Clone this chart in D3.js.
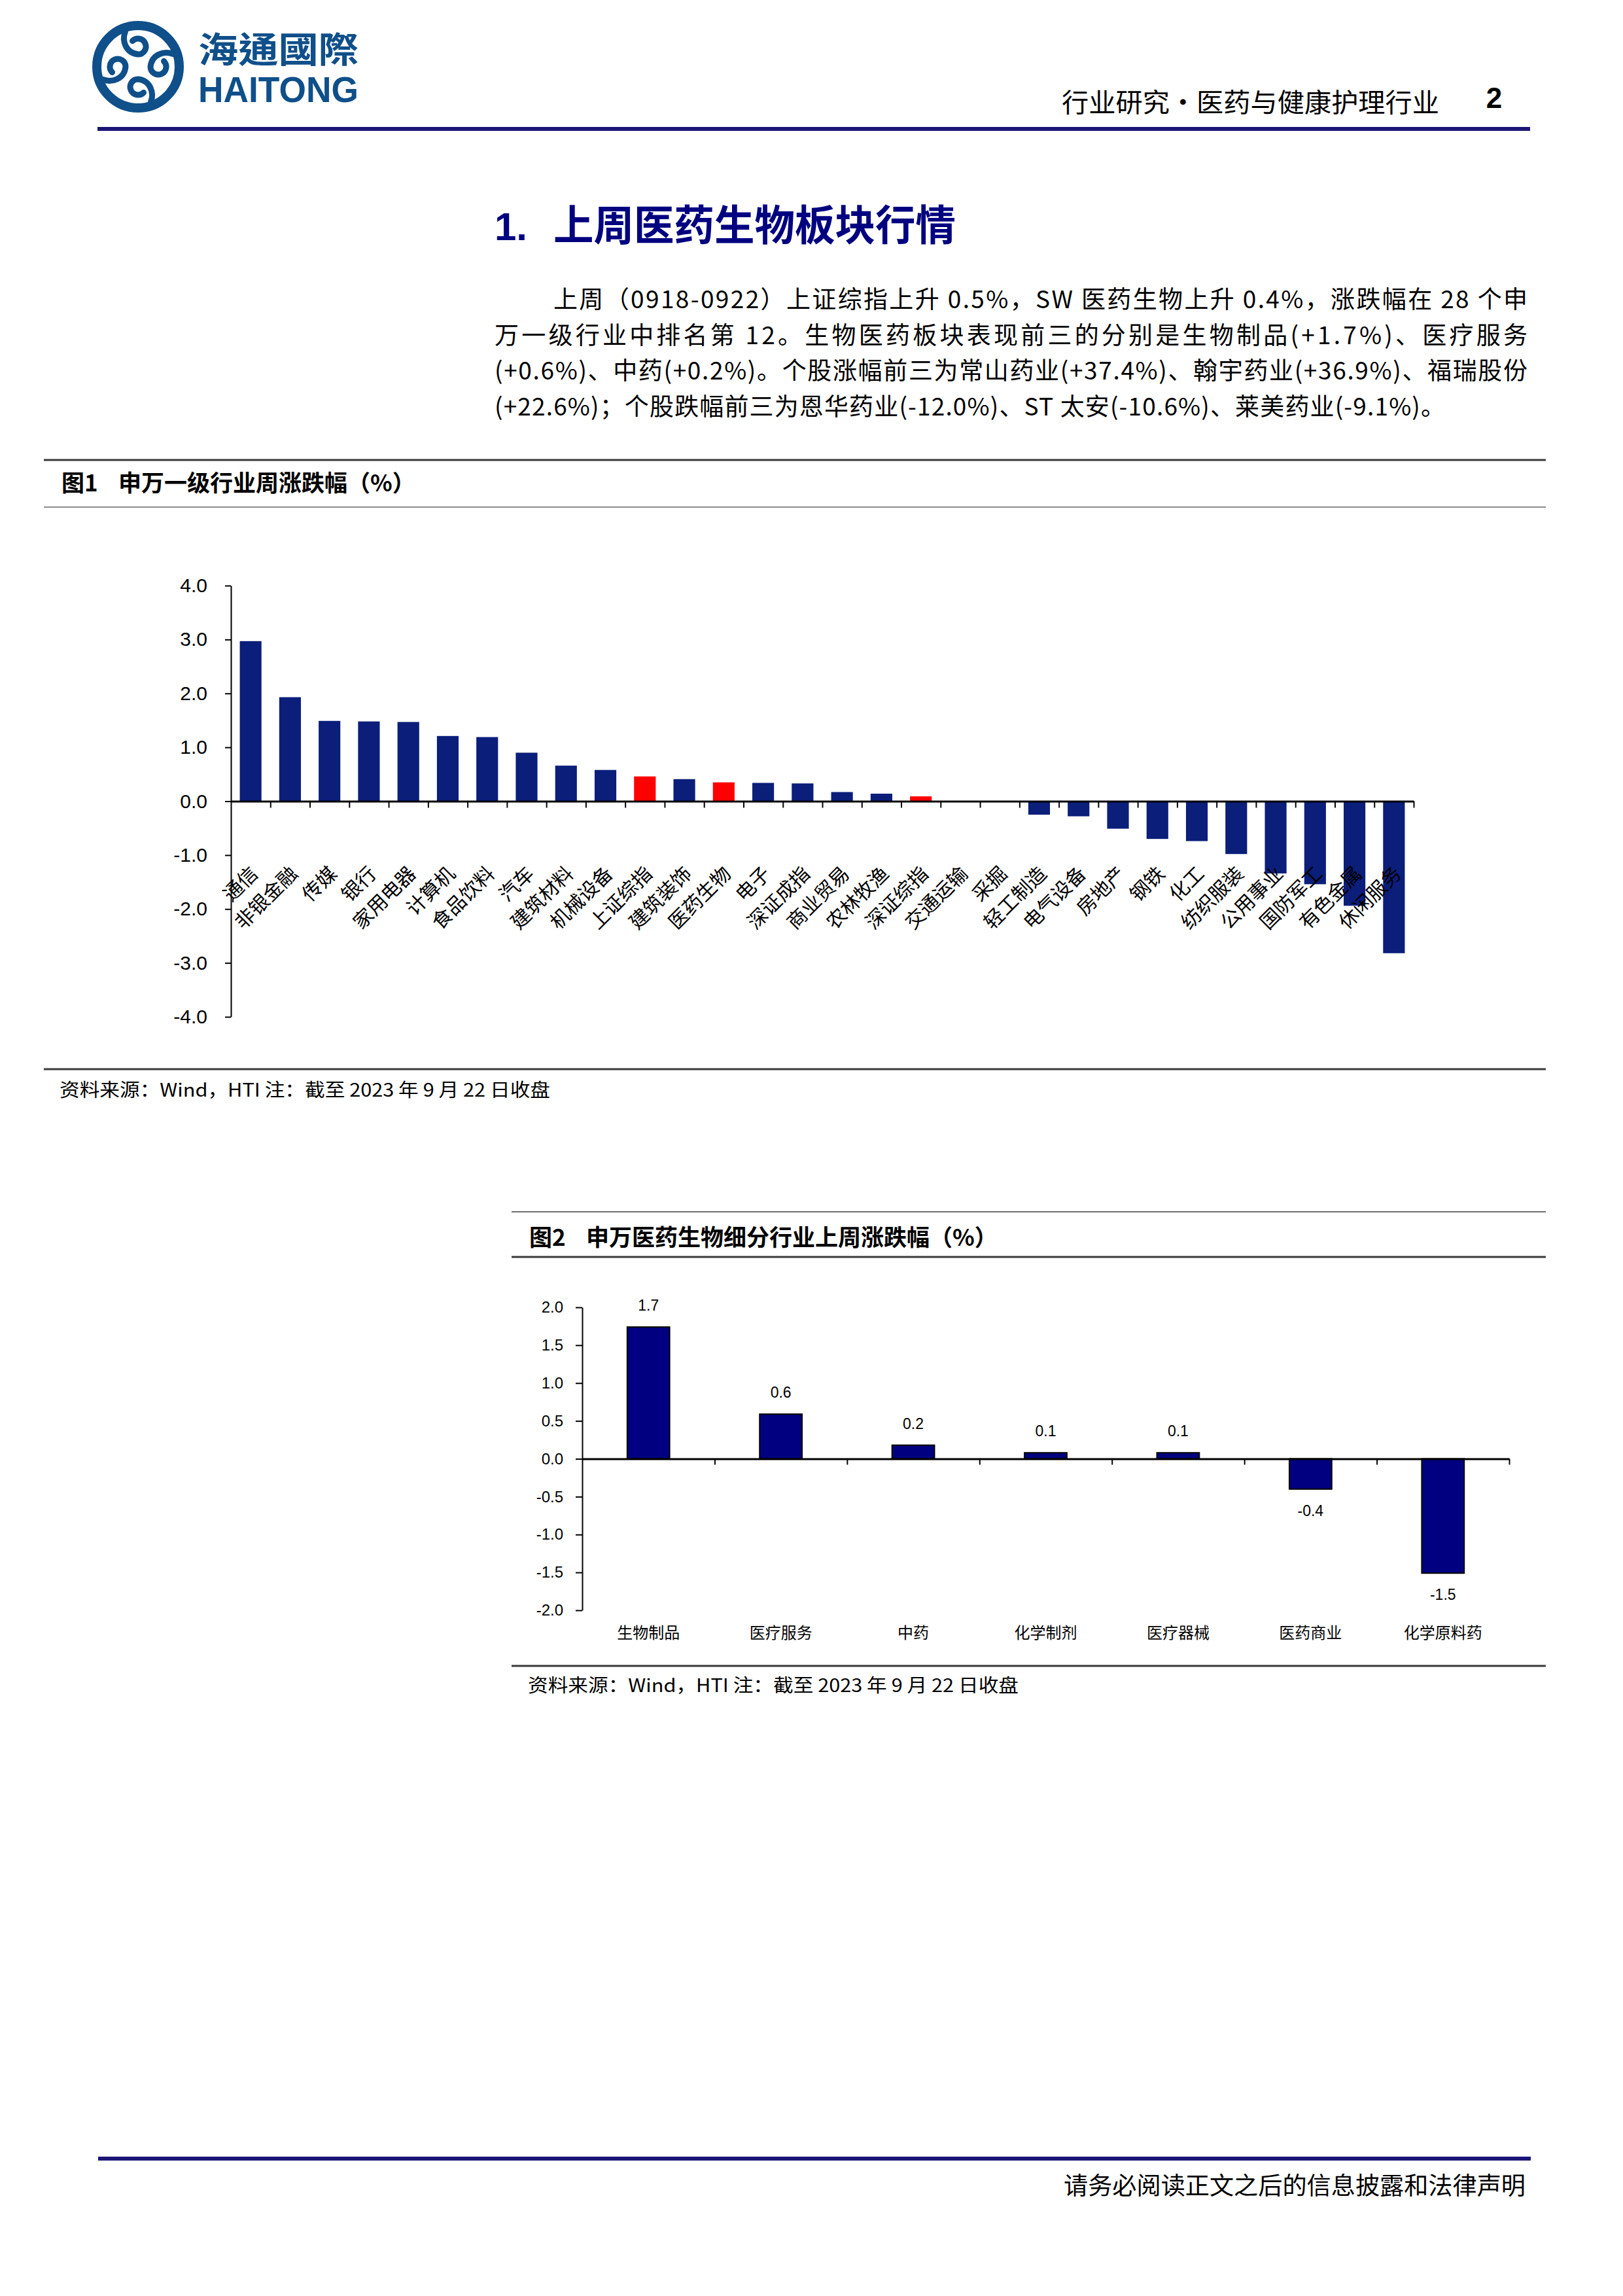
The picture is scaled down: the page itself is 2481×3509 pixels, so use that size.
<!DOCTYPE html>
<html>
<head>
<meta charset="utf-8">
<script src="https://cdn.jsdelivr.net/npm/d3@7"></script>
<style>
  body { margin: 0; background: #fff; }
  svg { display: block; }
</style>
</head>
<body>
<script>
// ---- data ----
const industries = ['通信', '非银金融', '传媒', '银行', '家用电器', '计算机', '食品饮料', '汽车',
    '建筑材料', '机械设备', '上证综指', '建筑装饰', '医药生物', '电子', '深证成指', '商业贸易',
    '农林牧渔', '深证综指', '交通运输', '采掘', '轻工制造', '电气设备', '房地产', '钢铁', '化工',
    '纺织服装', '公用事业', '国防军工', '有色金属', '休闲服务'];
const weeklyChange = [2.97, 1.93, 1.49, 1.48, 1.47, 1.21, 1.19, 0.90, 0.66, 0.58, 0.46, 0.41,
    0.35, 0.34, 0.33, 0.17, 0.14, 0.09, 0.0, 0.0, -0.25, -0.28, -0.51, -0.70, -0.74, -0.98,
    -1.34, -1.54, -1.94, -2.82];
const highlighted = ['上证综指', '医药生物', '深证综指'];
const fig1Ticks = [4, 3, 2, 1, 0, -1, -2, -3, -4];

const subIndustries = ['生物制品', '医疗服务', '中药', '化学制剂', '医疗器械', '医药商业', '化学原料药'];
const subChange = [1.74, 0.59, 0.18, 0.08, 0.08, -0.40, -1.51];
const fig2Ticks = [2, 1.5, 1, 0.5, 0, -0.5, -1, -1.5, -2];

const paragraphLines = [
    '上周（0918-0922）上证综指上升 0.5%，SW 医药生物上升 0.4%，涨跌幅在 28 个申',
    '万一级行业中排名第 12。生物医药板块表现前三的分别是生物制品(+1.7%)、医疗服务',
    '(+0.6%)、中药(+0.2%)。个股涨幅前三为常山药业(+37.4%)、翰宇药业(+36.9%)、福瑞股份',
    '(+22.6%)；个股跌幅前三为恩华药业(-12.0%)、ST 太安(-10.6%)、莱美药业(-9.1%)。'
];
const sourceNote = '资料来源：Wind，HTI 注：截至 2023 年 9 月 22 日收盘';

// ---- page ----
const W = 2481, H = 3509;
const CJK = '"Noto Sans CJK SC", "Noto Sans CJK TC", sans-serif';
const LATIN = '"Liberation Sans", Arial, sans-serif';
const logoBlue = '#0f4f8a';
const ruleBlue = '#1b1577';

const svg = d3.select('body').append('svg')
    .attr('width', W).attr('height', H)
    .attr('viewBox', `0 0 ${W} ${H}`);
svg.append('rect').attr('width', W).attr('height', H).attr('fill', '#fff');

// logo
const logo = svg.append('g').attr('transform', 'translate(211,102)');
logo.append('circle').attr('r', 63).attr('fill', 'none')
    .attr('stroke', logoBlue).attr('stroke-width', 14);
[0, 90, 180, 270].forEach(function(a) {
    logo.append('path')
        .attr('transform', `rotate(${a})`)
        .attr('d', 'M-19.5,-53.6 C-25,-40 -19,-21 0,-19 A12,12 0 1 0 -8.5,-39.5')
        .attr('fill', 'none')
        .attr('stroke', logoBlue)
        .attr('stroke-width', 9)
        .attr('stroke-linecap', 'round');
});
svg.append('text').attr('x', 303).attr('y', 96)
    .attr('font-family', '"Noto Sans CJK TC", sans-serif').attr('font-weight', 700)
    .attr('font-size', 54).attr('fill', logoBlue)
    .attr('textLength', 245).attr('lengthAdjust', 'spacingAndGlyphs')
    .text('海通國際');
svg.append('text').attr('x', 303).attr('y', 156)
    .attr('font-family', LATIN).attr('font-weight', 700)
    .attr('font-size', 56).attr('fill', logoBlue)
    .attr('textLength', 245).attr('lengthAdjust', 'spacingAndGlyphs')
    .text('HAITONG');

// running header
svg.append('text').attr('x', 1623).attr('y', 171)
    .attr('font-family', CJK).attr('font-size', 40).attr('fill', '#000')
    .attr('textLength', 577).attr('lengthAdjust', 'spacingAndGlyphs')
    .text('行业研究•医药与健康护理行业');
svg.append('text').attr('x', 2284).attr('y', 165).attr('text-anchor', 'middle')
    .attr('font-family', LATIN).attr('font-weight', 700).attr('font-size', 44)
    .text('2');
svg.append('rect').attr('x', 149).attr('y', 194).attr('width', 2190).attr('height', 6)
    .attr('fill', ruleBlue);

// section heading
svg.append('text').attr('x', 756).attr('y', 367)
    .attr('font-family', LATIN).attr('font-weight', 700).attr('font-size', 60)
    .attr('fill', '#000080').text('1.');
svg.append('text').attr('x', 846).attr('y', 367)
    .attr('font-family', CJK).attr('font-weight', 700).attr('font-size', 64)
    .attr('fill', '#000080')
    .attr('textLength', 615).attr('lengthAdjust', 'spacingAndGlyphs')
    .text('上周医药生物板块行情');

// paragraph
const lineStart = [846, 756, 756, 756];
const lineEnd = [2335, 2335, 2335, 2209];
svg.append('g').selectAll('text').data(paragraphLines).join('text')
    .attr('x', (d, i) => lineStart[i])
    .attr('y', (d, i) => 471 + i * 54.5)
    .attr('font-family', CJK).attr('font-size', 37).attr('fill', '#000')
    .attr('textLength', (d, i) => lineEnd[i] - lineStart[i])
    .attr('lengthAdjust', 'spacing')
    .text(d => d);

function rule(y, x0, x1, w, color) {
    svg.append('line').attr('x1', x0).attr('x2', x1).attr('y1', y).attr('y2', y)
        .attr('stroke', color).attr('stroke-width', w);
}

function figTitle(x, xRest, y, num, rest) {
    svg.append('text').attr('x', x).attr('y', y)
        .attr('font-family', CJK).attr('font-weight', 700).attr('font-size', 35)
        .text(num);
    svg.append('text').attr('x', xRest).attr('y', y)
        .attr('font-family', CJK).attr('font-weight', 700).attr('font-size', 35)
        .text(rest);
}

// ---- figure 1 ----
rule(703, 67, 2363, 3, '#3a3a3a');
figTitle(94, 181, 751, '图1', '申万一级行业周涨跌幅（%）');
rule(775, 67, 2363, 2, '#8c8c8c');

const fig1Data = industries.map((name, i) => ({name: name, value: weeklyChange[i]}));
const x1 = d3.scaleBand().domain(industries).range([353, 2161])
    .paddingInner(0.45).paddingOuter(0.225);
const y1 = d3.scaleLinear().domain([-4, 4]).range([1554, 895]);
const slot1 = d3.scaleLinear().domain([0, industries.length]).range([353, 2161]);

const fig1 = svg.append('g');
fig1.selectAll('rect').data(fig1Data).join('rect')
    .attr('x', d => x1(d.name))
    .attr('width', x1.bandwidth())
    .attr('y', d => y1(Math.max(0, d.value)))
    .attr('height', d => Math.abs(y1(d.value) - y1(0)))
    .attr('fill', d => highlighted.includes(d.name) ? '#ff0000' : '#0a1e7a');

fig1.append('g').attr('transform', 'translate(353,0)')
    .call(d3.axisLeft(y1).tickValues(fig1Ticks).tickFormat(d => d.toFixed(1))
        .tickSize(9).tickSizeOuter(0).tickPadding(27))
    .call(g => g.select('.domain').attr('stroke', '#000').attr('stroke-width', 2))
    .call(g => g.selectAll('.tick line').attr('stroke', '#000').attr('stroke-width', 2))
    .call(g => g.selectAll('text').attr('font-family', LATIN).attr('font-size', 30).attr('fill', '#000'));

fig1.append('g').attr('transform', `translate(0,${y1(0)})`)
    .call(d3.axisBottom(slot1).tickValues(d3.range(1, industries.length + 1))
        .tickFormat('').tickSize(10).tickSizeOuter(0))
    .call(g => g.select('.domain').attr('stroke', '#000').attr('stroke-width', 3))
    .call(g => g.selectAll('.tick line').attr('stroke', '#000').attr('stroke-width', 2));

fig1.append('g').selectAll('text').data(fig1Data).join('text')
    .attr('transform', d => `translate(${x1(d.name) + x1.bandwidth() / 2 + 4},1328) rotate(-45)`)
    .attr('text-anchor', 'end')
    .attr('dominant-baseline', 'central')
    .attr('font-family', CJK).attr('font-size', 30).attr('fill', '#000')
    .text(d => d.name);

rule(1634, 67, 2363, 3, '#3a3a3a');
svg.append('text').attr('x', 91).attr('y', 1676)
    .attr('font-family', CJK).attr('font-size', 28)
    .attr('textLength', 750).attr('lengthAdjust', 'spacingAndGlyphs')
    .text(sourceNote);

// ---- figure 2 ----
rule(1852, 782, 2363, 2, '#6e6e6e');
figTitle(809, 896, 1904, '图2', '申万医药生物细分行业上周涨跌幅（%）');
rule(1921, 782, 2363, 3, '#3a3a3a');

const fig2Data = subIndustries.map((name, i) => ({name: name, value: subChange[i]}));
const x2 = d3.scaleBand().domain(subIndustries).range([890, 2307])
    .paddingInner(0.68).paddingOuter(0.34);
const y2 = d3.scaleLinear().domain([-2, 2]).range([2461, 1998]);
const slot2 = d3.scaleLinear().domain([0, subIndustries.length]).range([890, 2307]);

const fig2 = svg.append('g');
fig2.selectAll('rect').data(fig2Data).join('rect')
    .attr('x', d => x2(d.name))
    .attr('width', x2.bandwidth())
    .attr('y', d => y2(Math.max(0, d.value)))
    .attr('height', d => Math.abs(y2(d.value) - y2(0)))
    .attr('fill', '#000080')
    .attr('stroke', '#000').attr('stroke-width', 2);

fig2.append('g').attr('transform', 'translate(890,0)')
    .call(d3.axisLeft(y2).tickValues(fig2Ticks).tickFormat(d => d.toFixed(1))
        .tickSize(10).tickSizeOuter(0).tickPadding(19))
    .call(g => g.select('.domain').attr('stroke', '#000').attr('stroke-width', 2))
    .call(g => g.selectAll('.tick line').attr('stroke', '#000').attr('stroke-width', 2))
    .call(g => g.selectAll('text').attr('font-family', LATIN).attr('font-size', 24).attr('fill', '#000'));

fig2.append('g').attr('transform', `translate(0,${y2(0)})`)
    .call(d3.axisBottom(slot2).tickValues(d3.range(1, subIndustries.length + 1))
        .tickFormat('').tickSize(9).tickSizeOuter(0))
    .call(g => g.select('.domain').attr('stroke', '#000').attr('stroke-width', 3))
    .call(g => g.selectAll('.tick line').attr('stroke', '#000').attr('stroke-width', 2));

fig2.append('g').selectAll('text').data(fig2Data).join('text')
    .attr('x', d => x2(d.name) + x2.bandwidth() / 2)
    .attr('y', d => d.value >= 0 ? y2(d.value) - 33 : y2(d.value) + 33)
    .attr('text-anchor', 'middle').attr('dominant-baseline', 'central')
    .attr('font-family', LATIN).attr('font-size', 23)
    .text(d => d.value.toFixed(1));

fig2.append('g').selectAll('text').data(fig2Data).join('text')
    .attr('x', d => x2(d.name) + x2.bandwidth() / 2)
    .attr('y', 2493)
    .attr('text-anchor', 'middle').attr('dominant-baseline', 'central')
    .attr('font-family', CJK).attr('font-size', 24)
    .text(d => d.name);

rule(2546, 782, 2363, 3, '#3a3a3a');
svg.append('text').attr('x', 807).attr('y', 2586)
    .attr('font-family', CJK).attr('font-size', 28)
    .attr('textLength', 750).attr('lengthAdjust', 'spacingAndGlyphs')
    .text(sourceNote);

// ---- footer ----
svg.append('rect').attr('x', 150).attr('y', 3296).attr('width', 2190).attr('height', 6)
    .attr('fill', ruleBlue);
svg.append('text').attr('x', 1626).attr('y', 3354)
    .attr('font-family', CJK).attr('font-size', 37)
    .attr('textLength', 706).attr('lengthAdjust', 'spacingAndGlyphs')
    .text('请务必阅读正文之后的信息披露和法律声明');
</script>
</body>
</html>
